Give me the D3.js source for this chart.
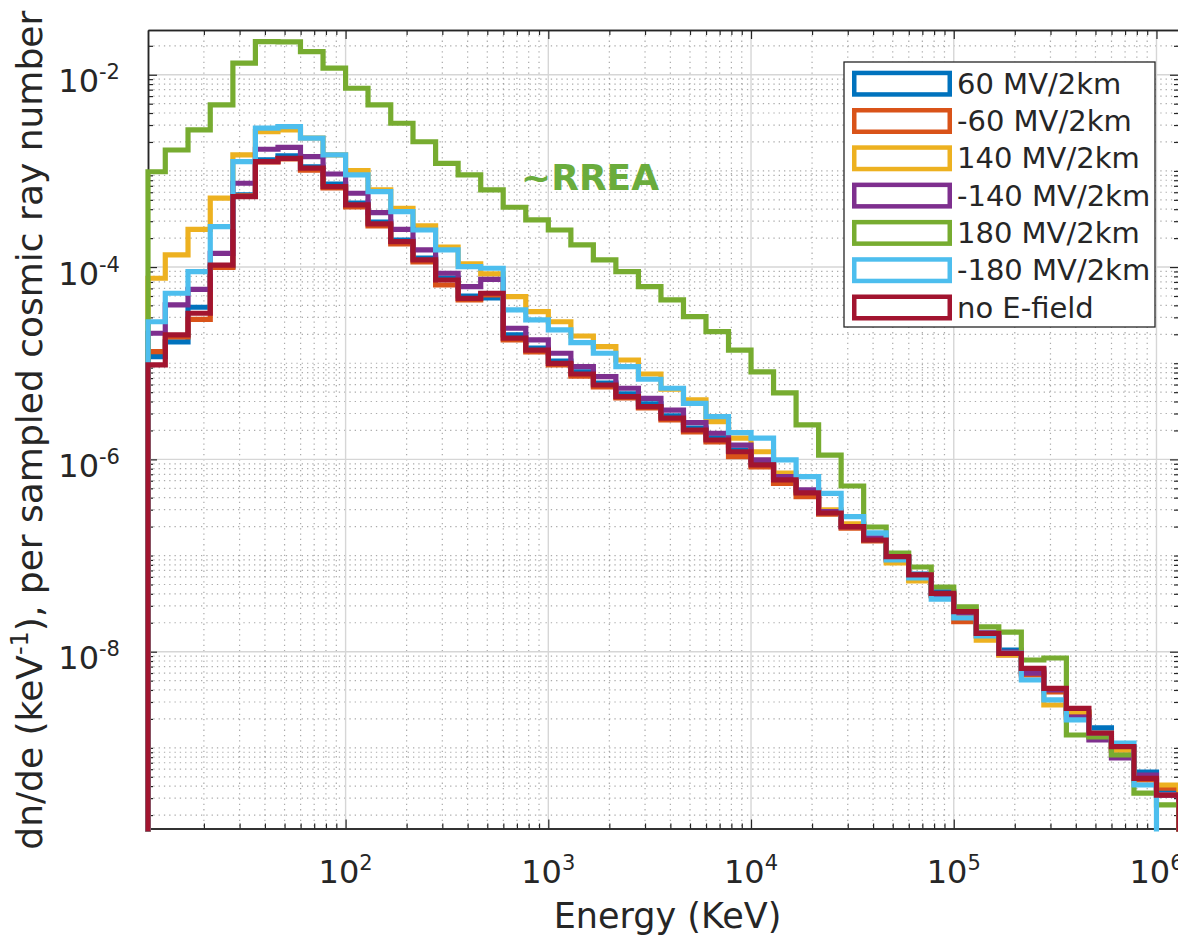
<!DOCTYPE html>
<html>
<head>
<meta charset="utf-8">
<script src="https://cdn.jsdelivr.net/npm/d3@7"></script>
<style>
  body { margin: 0; background: #fff; }
  svg { display: block; font-family: "DejaVu Sans", sans-serif; }
</style>
</head>
<body>
<script>
// energy bin edges (keV), 9 log bins per decade; first edge sits on the axis limit
const binEdges = [10.6, 12.9, 16.7, 21.5, 27.8, 35.9, 46.4, 59.9, 77.4,
  100, 129, 167, 215, 278, 359, 464, 599, 774,
  1e3, 1292, 1668, 2154, 2783, 3594, 4642, 5995, 7743,
  1e4, 12915, 16681, 21544, 27826, 35938, 46416, 59948, 77426,
  1e5, 129155, 166810, 215443, 278256, 359381, 464159, 599484, 774264,
  1e6, 1291550];

const seriesNames = ['60 MV/2km', '-60 MV/2km', '140 MV/2km', '-140 MV/2km',
  '180 MV/2km', '-180 MV/2km', 'no E-field'];
const seriesColors = ['#0072BD', '#D95319', '#EDB120', '#7E2F8E', '#77AC30', '#4DBEEE', '#A2142F'];

// dn/de per bin (keV^-1 per sampled cosmic ray)
const pos60 = [1.17e-5, 1.67e-5, 3.82e-5, 1.01e-4, 5.62e-4, 1.30e-3, 1.43e-3, 1.10e-3, 7.31e-4, 4.64e-4,
  2.94e-4, 1.91e-4, 1.24e-4, 7.70e-5, 5.00e-5, 4.77e-5, 1.97e-5, 1.44e-5, 1.05e-5, 8.11e-6,
  6.23e-6, 4.79e-6, 3.77e-6, 2.83e-6, 2.12e-6, 1.67e-6, 1.25e-6, 9.18e-7, 6.41e-7, 4.69e-7,
  2.84e-7, 2.08e-7, 1.52e-7, 9.66e-8, 6.43e-8, 4.18e-8, 2.65e-8, 1.56e-8, 1.04e-8, 6.46e-9,
  4.09e-9, 2.36e-9, 1.61e-9, 9.96e-10, 5.61e-10, 3.65e-10];
const neg60 = [1.32e-5, 1.88e-5, 2.86e-5, 9.95e-5, 5.49e-4, 1.24e-3, 1.33e-3, 1.02e-3, 6.65e-4, 4.22e-4,
  2.68e-4, 1.74e-4, 1.13e-4, 6.51e-5, 4.55e-5, 5.13e-5, 1.75e-5, 1.31e-5, 9.59e-6, 7.36e-6,
  5.66e-6, 4.35e-6, 3.43e-6, 2.57e-6, 1.93e-6, 1.52e-6, 1.07e-6, 8.34e-7, 5.64e-7, 4.09e-7,
  2.70e-7, 1.93e-7, 1.42e-7, 8.99e-8, 5.70e-8, 3.80e-8, 2.05e-8, 1.46e-8, 9.25e-9, 5.73e-9,
  3.81e-9, 2.25e-9, 1.36e-9, 9.50e-10, 4.63e-10, 3.82e-10];
const pos140 = [7.65e-5, 1.34e-4, 2.47e-4, 5.20e-4, 1.47e-3, 2.56e-3, 2.67e-3, 2.20e-3, 1.47e-3, 1.01e-3,
  6.34e-4, 4.09e-4, 2.68e-4, 1.61e-4, 1.08e-4, 8.48e-5, 4.92e-5, 3.44e-5, 2.70e-5, 1.92e-5,
  1.49e-5, 1.08e-5, 7.73e-6, 5.36e-6, 4.15e-6, 2.47e-6, 1.66e-6, 1.20e-6, 7.22e-7, 4.58e-7,
  2.98e-7, 2.13e-7, 1.45e-7, 8.37e-8, 5.44e-8, 3.89e-8, 2.30e-8, 1.32e-8, 9.25e-9, 6.15e-9,
  2.79e-9, 2.36e-9, 1.43e-9, 9.50e-10, 4.86e-10, 4.11e-10];
const neg140 = [2.05e-5, 4.04e-5, 5.87e-5, 1.39e-4, 7.44e-4, 1.68e-3, 1.76e-3, 1.41e-3, 9.29e-4, 5.86e-4,
  3.68e-4, 2.47e-4, 1.51e-4, 8.62e-5, 6.25e-5, 7.46e-5, 2.31e-5, 1.75e-5, 1.27e-5, 9.21e-6,
  7.25e-6, 5.49e-6, 4.32e-6, 3.26e-6, 2.41e-6, 1.87e-6, 1.41e-6, 9.86e-7, 6.61e-7, 4.81e-7,
  2.86e-7, 2.00e-7, 1.52e-7, 9.44e-8, 6.28e-8, 3.89e-8, 2.53e-8, 1.56e-8, 9.93e-9, 6.00e-9,
  4.00e-9, 2.09e-9, 1.21e-9, 7.84e-10, 5.22e-10, 3.23e-10];
const pos180 = [9.8e-4, 1.65e-3, 2.67e-3, 4.85e-3, 1.32e-2, 2.21e-2, 2.20e-2, 1.74e-2, 1.17e-2, 7.24e-3,
  4.85e-3, 3.13e-3, 2.01e-3, 1.20e-3, 9.08e-4, 6.34e-4, 4.19e-4, 3.09e-4, 2.43e-4, 1.70e-4,
  1.19e-4, 8.96e-5, 6.25e-5, 4.55e-5, 3.05e-5, 2.13e-5, 1.37e-5, 8.11e-6, 4.91e-6, 2.28e-6,
  1.11e-6, 5.29e-7, 1.98e-7, 1.06e-7, 7.60e-8, 4.71e-8, 2.92e-8, 1.81e-8, 1.60e-8, 8.20e-9,
  8.60e-9, 1.36e-9, 1.30e-9, 8.43e-10, 3.39e-10, 2.55e-10];
const neg180 = [2.70e-5, 5.34e-5, 8.96e-5, 2.63e-4, 1.25e-3, 2.78e-3, 2.89e-3, 2.19e-3, 1.47e-3, 9.08e-4,
  6.08e-4, 3.77e-4, 2.43e-4, 1.51e-4, 1.01e-4, 9.72e-5, 3.58e-5, 2.82e-5, 2.22e-5, 1.64e-5,
  1.27e-5, 9.21e-6, 6.81e-6, 5.49e-6, 3.83e-6, 2.78e-6, 1.90e-6, 1.66e-6, 9.86e-7, 6.61e-7,
  4.44e-7, 2.54e-7, 1.72e-7, 8.99e-8, 5.84e-8, 3.53e-8, 2.24e-8, 1.46e-8, 9.69e-9, 5.08e-9,
  3.15e-9, 1.95e-9, 1.43e-9, 1.12e-9, 4.11e-10, 0];
const noField = [9.59e-6, 1.97e-5, 3.31e-5, 1.05e-4, 5.40e-4, 1.25e-3, 1.35e-3, 1.07e-3, 6.86e-4, 4.43e-4,
  2.81e-4, 1.84e-4, 1.19e-4, 7.34e-5, 4.73e-5, 5.34e-5, 1.82e-5, 1.37e-5, 9.98e-6, 7.73e-6,
  5.94e-6, 4.49e-6, 3.53e-6, 2.68e-6, 2.02e-6, 1.59e-6, 1.20e-6, 8.75e-7, 6.11e-7, 4.48e-7,
  2.77e-7, 2.00e-7, 1.45e-7, 9.73e-8, 6.28e-8, 4.05e-8, 2.61e-8, 1.55e-8, 9.62e-9, 6.71e-9,
  4.16e-9, 2.58e-9, 1.42e-9, 1.03e-9, 4.82e-10, 3.23e-10];

const seriesValues = [pos60, neg60, pos140, neg140, pos180, neg180, noField];

const xMajorTicks = [1e2, 1e3, 1e4, 1e5, 1e6];
const xTickExps = ['2', '3', '4', '5', '6'];
const yMajorTicks = [1e-2, 1e-4, 1e-6, 1e-8];
const yTickExps = ['-2', '-4', '-6', '-8'];
const yDomain = [1.45e-10, 2.92e-2];

const width = 1178, height = 937;
const plot = {left: 148, top: 30, right: 1179, bottom: 828.5};
const ink = '#262626';

const svg = d3.select('body').append('svg')
  .attr('width', width)
  .attr('height', height);

const x = d3.scaleLog()
  .domain([binEdges[0], binEdges[binEdges.length - 1]])
  .range([plot.left, plot.right]);
const y = d3.scaleLog()
  .domain(yDomain)
  .range([plot.bottom, plot.top]);

// minor tick values: 1..9 x each decade, minus the labelled ones
function minorTicks(scale, majors) {
  const [a, b] = scale.domain();
  const out = [];
  for (let e = Math.floor(Math.log10(a)); e <= Math.ceil(Math.log10(b)); e++) {
    for (let k = 1; k < 10; k++) {
      const v = k * Math.pow(10, e);
      if (v >= a && v <= b && !majors.some(m => Math.abs(m / v - 1) < 1e-6)) out.push(v);
    }
  }
  return out;
}
const xMinor = minorTicks(x, xMajorTicks);
const yMinor = minorTicks(y, yMajorTicks);

// grid
const grid = svg.append('g');
grid.selectAll('.xminor').data(xMinor).enter().append('line')
  .attr('x1', d => x(d)).attr('x2', d => x(d))
  .attr('y1', plot.top).attr('y2', plot.bottom)
  .attr('stroke', '#8f8f8f').attr('stroke-width', 1.2)
  .attr('stroke-dasharray', '1.3,4').attr('opacity', 0.75);
grid.selectAll('.yminor').data(yMinor).enter().append('line')
  .attr('x1', plot.left).attr('x2', plot.right)
  .attr('y1', d => y(d)).attr('y2', d => y(d))
  .attr('stroke', '#8f8f8f').attr('stroke-width', 1.2)
  .attr('stroke-dasharray', '1.3,4').attr('opacity', 0.75);
grid.selectAll('.xmajor').data(xMajorTicks).enter().append('line')
  .attr('x1', d => x(d)).attr('x2', d => x(d))
  .attr('y1', plot.top).attr('y2', plot.bottom)
  .attr('stroke', '#d6d6d6').attr('stroke-width', 1.4);
grid.selectAll('.ymajor').data(yMajorTicks).enter().append('line')
  .attr('x1', plot.left).attr('x2', plot.right)
  .attr('y1', d => y(d)).attr('y2', d => y(d))
  .attr('stroke', '#d6d6d6').attr('stroke-width', 1.4);

// axes box with inward ticks on all sides
function styleAxis(g) {
  g.selectAll('path.domain').attr('stroke', ink).attr('stroke-width', 1.5);
  g.selectAll('.tick line').attr('stroke', ink).attr('stroke-width', 1.2);
  g.selectAll('text').remove();
}
const axes = svg.append('g');
[[d3.axisBottom(x), `translate(0,${plot.bottom})`],
 [d3.axisTop(x), `translate(0,${plot.top})`]].forEach(([ax, tr]) => {
  axes.append('g').attr('transform', tr)
    .call(ax.tickValues(xMajorTicks).tickSizeInner(-9).tickSizeOuter(0).tickFormat(''))
    .call(styleAxis);
  axes.append('g').attr('transform', tr)
    .call(ax.tickValues(xMinor).tickSizeInner(-5).tickSizeOuter(0).tickFormat(''))
    .call(styleAxis);
});
[[d3.axisLeft(y), `translate(${plot.left},0)`],
 [d3.axisRight(y), `translate(${plot.right},0)`]].forEach(([ax, tr]) => {
  axes.append('g').attr('transform', tr)
    .call(ax.tickValues(yMajorTicks).tickSizeInner(-9).tickSizeOuter(0).tickFormat(''))
    .call(styleAxis);
  axes.append('g').attr('transform', tr)
    .call(ax.tickValues(yMinor).tickSizeInner(-5).tickSizeOuter(0).tickFormat(''))
    .call(styleAxis);
});

// tick labels 10^n
const xLabels = svg.append('g').attr('fill', ink);
xMajorTicks.forEach((v, i) => {
  const t = xLabels.append('text')
    .attr('x', x(v)).attr('y', plot.bottom + 54.5)
    .attr('text-anchor', 'middle')
    .style('font-size', '32px');
  t.append('tspan').text('10');
  t.append('tspan').attr('dy', -13).style('font-size', '21px').text(xTickExps[i]);
});
const yLabels = svg.append('g').attr('fill', ink);
yMajorTicks.forEach((v, i) => {
  const t = yLabels.append('text')
    .attr('x', 120).attr('y', y(v) + 17.5)
    .attr('text-anchor', 'end')
    .style('font-size', '32px');
  t.append('tspan').text('10');
  t.append('tspan').attr('dy', -13).style('font-size', '21px').text(yTickExps[i]);
});

// axis titles
svg.append('text')
  .attr('x', (plot.left + plot.right) / 2 + 4).attr('y', 928)
  .attr('text-anchor', 'middle').attr('fill', ink)
  .style('font-size', '35px')
  .text('Energy (KeV)');

const yTitle = svg.append('text')
  .attr('transform', `translate(42,${(plot.top + plot.bottom) / 2 + 1}) rotate(-90)`)
  .attr('text-anchor', 'middle').attr('fill', ink)
  .style('font-size', '36px');
yTitle.append('tspan').text('dn/de (keV');
yTitle.append('tspan').attr('dy', -14).style('font-size', '24px').text('-1');
yTitle.append('tspan').attr('dy', 14).text('), per sampled cosmic ray number');

// stair outlines, closed down to the floor at both ends
svg.append('clipPath').attr('id', 'plotclip')
  .append('rect')
  .attr('x', plot.left - 4).attr('y', plot.top - 4)
  .attr('width', plot.right - plot.left + 8)
  .attr('height', plot.bottom - plot.top + 7);

const floorY = plot.bottom + 40;
const line = d3.line()
  .x(d => x(d[0]))
  .y(d => d[1] > 0 ? y(d[1]) : floorY);

function stairs(vals) {
  const pts = [[binEdges[0], 0]];
  vals.forEach((v, i) => {
    pts.push([binEdges[i], v]);
    pts.push([binEdges[i + 1], v]);
  });
  pts.push([binEdges[vals.length], 0]);
  return pts;
}

const lines = svg.append('g').attr('clip-path', 'url(#plotclip)');
seriesValues.forEach((vals, i) => {
  lines.append('path')
    .datum(stairs(vals))
    .attr('d', line)
    .attr('fill', 'none')
    .attr('stroke', seriesColors[i])
    .attr('stroke-width', 5.2)
    .attr('stroke-linejoin', 'miter');
});

// annotation
svg.append('text')
  .attr('x', 521).attr('y', 190)
  .attr('fill', '#6aac3c')
  .style('font-size', '36px').style('font-weight', 'bold')
  .text('~RREA');

// legend
const legend = svg.append('g');
legend.append('rect')
  .attr('x', 844).attr('y', 62).attr('width', 311).attr('height', 265)
  .attr('fill', '#fff').attr('stroke', ink).attr('stroke-width', 1.3);
seriesNames.forEach((name, i) => {
  const cy = 83.7 + 37.3 * i;
  legend.append('rect')
    .attr('x', 854.25).attr('y', cy - 10.75).attr('width', 95.5).attr('height', 21.5)
    .attr('fill', '#fff').attr('stroke', seriesColors[i]).attr('stroke-width', 4.5);
  legend.append('text')
    .attr('x', 957).attr('y', cy + 10)
    .attr('fill', ink).style('font-size', '29px')
    .text(name);
});
</script>
</body>
</html>
